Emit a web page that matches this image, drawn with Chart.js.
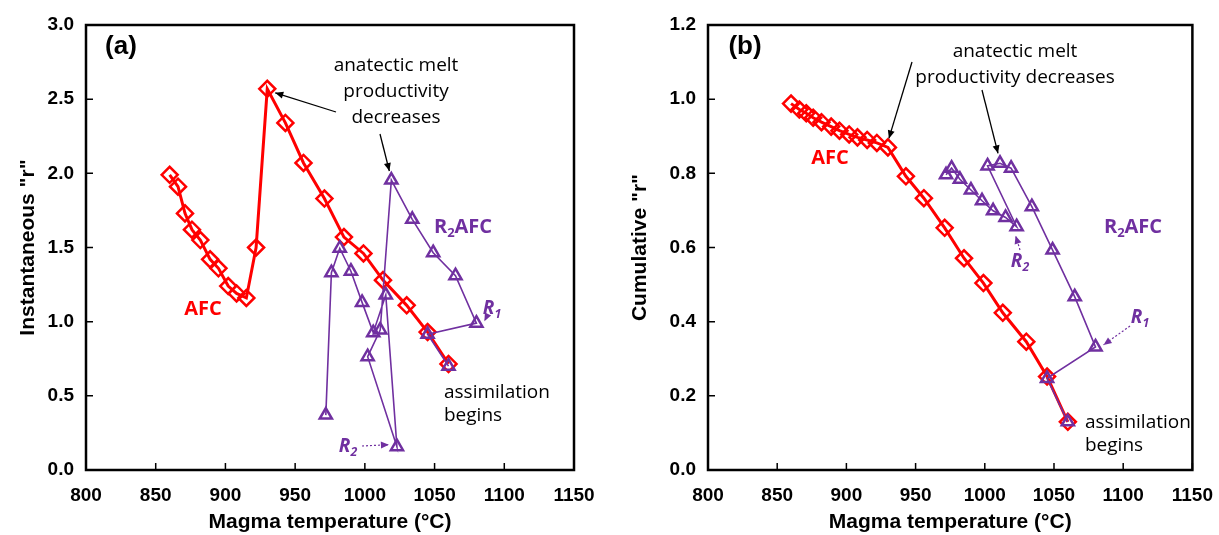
<!DOCTYPE html>
<html>
<head>
<meta charset="utf-8">
<script src="https://cdn.jsdelivr.net/npm/chart.js@4.4.1/dist/chart.umd.min.js"></script>
<style>
  body { margin: 0; background: #fff; }
  #wrap { position: relative; width: 1219px; height: 535px; }
  .box { position: absolute; top: 0; height: 535px; }
</style>
</head>
<body>
<div id="wrap">
  <div class="box" style="left:0;width:610px"><canvas id="chartA"></canvas></div>
  <div class="box" style="left:610px;width:609px"><canvas id="chartB"></canvas></div>
</div>
<script>
// AFC path (red diamonds)
const afcTemp = [860, 866, 871, 876, 882, 889, 895, 902, 908, 915, 922, 930, 943, 956, 971, 985, 999, 1013, 1030, 1045, 1060];
const afcInst = [1.99, 1.91, 1.73, 1.62, 1.55, 1.42, 1.36, 1.24, 1.19, 1.16, 1.50, 2.57, 2.34, 2.07, 1.83, 1.57, 1.46, 1.28, 1.11, 0.93, 0.715];
const afcCum = [0.988, 0.972, 0.962, 0.950, 0.938, 0.926, 0.915, 0.905, 0.897, 0.890, 0.882, 0.870, 0.792, 0.733, 0.653, 0.571, 0.504, 0.424, 0.346, 0.252, 0.130];

// R2AFC path (purple triangles), in model order
const r2Temp = [1060, 1045, 1080, 1065, 1049, 1034, 1019, 1011, 1002, 1023, 1015, 1006, 998, 990, 982, 976, 972];
const r2Inst = [0.70, 0.915, 0.99, 1.31, 1.465, 1.69, 1.955, 0.944, 0.764, 0.157, 1.18, 0.926, 1.13, 1.34, 1.495, 1.33, 0.37];
const r2Cum = [0.130, 0.247, 0.332, 0.467, 0.593, 0.710, 0.814, 0.827, 0.820, 0.656, 0.681, 0.699, 0.726, 0.755, 0.784, 0.814, 0.796];

const xTicks = [800, 850, 900, 950, 1000, 1050, 1100, 1150];
const yTicksA = [0, 0.5, 1.0, 1.5, 2.0, 2.5, 3.0];
const yTicksB = [0, 0.2, 0.4, 0.6, 0.8, 1.0, 1.2];

const RED = "#ff0000";
const PURPLE = "#7030a0";
const LABEL_FONT = "'Open Sans', sans-serif";
const AXIS_FONT = "'Liberation Sans', Arial";

function pts(xs, ys) {
    return xs.map((x, i) => ({ x: x, y: ys[i] }));
}

// frame + inward tick marks + annotation text
const framePlugin = {
    id: "frame",
    afterDraw(chart, args, opts) {
        const ctx = chart.ctx;
        const a = chart.chartArea;
        const xs = chart.scales.x, ys = chart.scales.y;
        ctx.save();
        ctx.strokeStyle = "#000";
        ctx.lineWidth = 2.5;
        ctx.strokeRect(a.left, a.top, a.right - a.left, a.bottom - a.top);
        ctx.lineWidth = 1.5;
        ctx.beginPath();
        xTicks.forEach(v => {
            const px = xs.getPixelForValue(v);
            ctx.moveTo(px, a.bottom);
            ctx.lineTo(px, a.bottom - 7);
        });
        opts.yTicks.forEach(v => {
            const py = ys.getPixelForValue(v);
            ctx.moveTo(a.left, py);
            ctx.lineTo(a.left + 7, py);
        });
        ctx.stroke();
        ctx.restore();
        opts.draw(chart, ctx, xs, ys);
    }
};

function text(ctx, s, x, y, font, color, align) {
    ctx.font = font;
    ctx.fillStyle = color;
    ctx.textAlign = align || "center";
    ctx.textBaseline = "middle";
    ctx.fillText(s, x, y);
}

// label with subscript, e.g. R + 2 + AFC
function subLabel(ctx, parts, x, y, size, color, italic) {
    const st = italic ? "italic bold " : "bold ";
    let w = 0;
    parts.forEach(p => {
        ctx.font = st + (p.sub ? size * 0.65 : size) + "px " + LABEL_FONT;
        w += ctx.measureText(p.t).width;
    });
    let cx = x - w / 2;
    ctx.fillStyle = color;
    ctx.textAlign = "left";
    ctx.textBaseline = "middle";
    parts.forEach(p => {
        ctx.font = st + (p.sub ? size * 0.65 : size) + "px " + LABEL_FONT;
        ctx.fillText(p.t, cx, p.sub ? y + size * 0.3 : y);
        cx += ctx.measureText(p.t).width;
    });
}

function arrow(ctx, x1, y1, x2, y2, color, dashed) {
    ctx.save();
    ctx.strokeStyle = color;
    ctx.fillStyle = color;
    ctx.lineWidth = dashed ? 1.2 : 1.3;
    if (dashed) ctx.setLineDash([2, 2]);
    ctx.beginPath();
    ctx.moveTo(x1, y1);
    ctx.lineTo(x2, y2);
    ctx.stroke();
    ctx.setLineDash([]);
    const ang = Math.atan2(y2 - y1, x2 - x1);
    const L = 8, W = 3.5;
    ctx.beginPath();
    ctx.moveTo(x2, y2);
    ctx.lineTo(x2 - L * Math.cos(ang) + W * Math.sin(ang), y2 - L * Math.sin(ang) - W * Math.cos(ang));
    ctx.lineTo(x2 - L * Math.cos(ang) - W * Math.sin(ang), y2 - L * Math.sin(ang) + W * Math.cos(ang));
    ctx.closePath();
    ctx.fill();
    ctx.restore();
}

function makeChart(id, afcY, r2Y, yMax, yTicks, yTitle, yWidth, titlePad, padRight, draw) {
    return new Chart(document.getElementById(id), {
        type: "line",
        data: {
            datasets: [
                {
                    label: "AFC",
                    data: pts(afcTemp, afcY),
                    borderColor: RED,
                    borderWidth: 3,
                    pointStyle: "rectRot",
                    pointRadius: 8,
                    pointBorderWidth: 2.5,
                    pointBorderColor: RED,
                    pointBackgroundColor: "rgba(0,0,0,0)",
                    order: 2
                },
                {
                    label: "R2AFC",
                    data: pts(r2Temp, r2Y),
                    borderColor: PURPLE,
                    borderWidth: 1.6,
                    pointStyle: "triangle",
                    pointRadius: 7,
                    pointBorderWidth: 2.5,
                    pointBorderColor: PURPLE,
                    pointBackgroundColor: "rgba(0,0,0,0)",
                    order: 1
                }
            ]
        },
        options: {
            responsive: true,
            maintainAspectRatio: false,
            animation: false,
            layout: { padding: { top: 25, right: padRight, left: 0, bottom: 0 } },
            plugins: {
                legend: { display: false },
                tooltip: { enabled: false },
                frame: { yTicks: yTicks, draw: draw }
            },
            scales: {
                x: {
                    type: "linear",
                    min: 800, max: 1150,
                    afterBuildTicks: s => { s.ticks = xTicks.map(v => ({ value: v })); },
                    afterFit: s => { s.height = 65; },
                    grid: { display: false },
                    border: { display: false },
                    ticks: {
                        color: "#000",
                        padding: 6,
                        callback: v => String(v),
                        font: { family: AXIS_FONT, size: 19, weight: "bold" }
                    },
                    title: {
                        display: true,
                        text: "Magma temperature (°C)",
                        color: "#000",
                        padding: { top: 0, bottom: 0 },
                        font: { family: AXIS_FONT, size: 21, weight: "bold" }
                    }
                },
                y: {
                    min: 0, max: yMax,
                    afterBuildTicks: s => { s.ticks = yTicks.map(v => ({ value: v })); },
                    afterFit: s => { s.width = yWidth; },
                    grid: { display: false },
                    border: { display: false },
                    ticks: {
                        color: "#000",
                        padding: 4,
                        callback: v => v.toFixed(1),
                        font: { family: AXIS_FONT, size: 19, weight: "bold" }
                    },
                    title: {
                        display: true,
                        text: yTitle,
                        color: "#000",
                        padding: { top: titlePad, bottom: 0 },
                        font: { family: AXIS_FONT, size: 21, weight: "bold" }
                    }
                }
            }
        },
        plugins: [framePlugin]
    });
}

makeChart("chartA", afcInst, r2Inst, 3.0, yTicksA, 'Instantaneous "r"', 86, 16, 36, (chart, ctx, xs, ys) => {
    const X = v => xs.getPixelForValue(v), Y = v => ys.getPixelForValue(v);
    text(ctx, "(a)", 121, 47, "bold 26px " + AXIS_FONT, "#000");
    const f = "19px " + LABEL_FONT;
    text(ctx, "anatectic melt", 396, 66, f, "#000");
    text(ctx, "productivity", 396, 92, f, "#000");
    text(ctx, "decreases", 396, 118, f, "#000");
    arrow(ctx, 336, 112, X(930) + 8, Y(2.57) + 4, "#000");
    arrow(ctx, 380, 134, X(1019) - 2, Y(1.955) - 9, "#000");
    text(ctx, "AFC", 203, 309, "bold 20px " + LABEL_FONT, RED);
    subLabel(ctx, [{ t: "R" }, { t: "2", sub: true }, { t: "AFC" }], 463, 227, 20, PURPLE);
    subLabel(ctx, [{ t: "R" }, { t: "1", sub: true }], 492, 309, 19, PURPLE, true);
    arrow(ctx, 486, 318, X(1080) + 8, Y(0.99) - 2, PURPLE, true);
    subLabel(ctx, [{ t: "R" }, { t: "2", sub: true }], 348, 447, 19, PURPLE, true);
    arrow(ctx, 362, 446, X(1023) - 8, Y(0.157) - 2, PURPLE, true);
    text(ctx, "assimilation", 444, 393, f, "#000", "left");
    text(ctx, "begins", 444, 416, f, "#000", "left");
});

makeChart("chartB", afcCum, r2Cum, 1.2, yTicksB, 'Cumulative "r"', 98, 18, 25, (chart, ctx, xs, ys) => {
    const X = v => xs.getPixelForValue(v), Y = v => ys.getPixelForValue(v);
    text(ctx, "(b)", 135, 47, "bold 26px " + AXIS_FONT, "#000");
    const f = "19px " + LABEL_FONT;
    text(ctx, "anatectic melt", 405, 52, f, "#000");
    text(ctx, "productivity decreases", 405, 78, f, "#000");
    arrow(ctx, 302, 62, X(930) + 1, Y(0.870) - 9, "#000");
    arrow(ctx, 372, 90, X(1011) - 2, Y(0.827) - 10, "#000");
    text(ctx, "AFC", 220, 158, "bold 20px " + LABEL_FONT, RED);
    subLabel(ctx, [{ t: "R" }, { t: "2", sub: true }, { t: "AFC" }], 523, 227, 20, PURPLE);
    subLabel(ctx, [{ t: "R" }, { t: "2", sub: true }], 410, 262, 19, PURPLE, true);
    arrow(ctx, 410, 250, X(1023) - 1, Y(0.656) + 9, PURPLE, true);
    subLabel(ctx, [{ t: "R" }, { t: "1", sub: true }], 530, 318, 19, PURPLE, true);
    arrow(ctx, 520, 326, X(1080) + 8, Y(0.332) - 2, PURPLE, true);
    text(ctx, "assimilation", 475, 423, f, "#000", "left");
    text(ctx, "begins", 475, 446, f, "#000", "left");
});
</script>
</body>
</html>
